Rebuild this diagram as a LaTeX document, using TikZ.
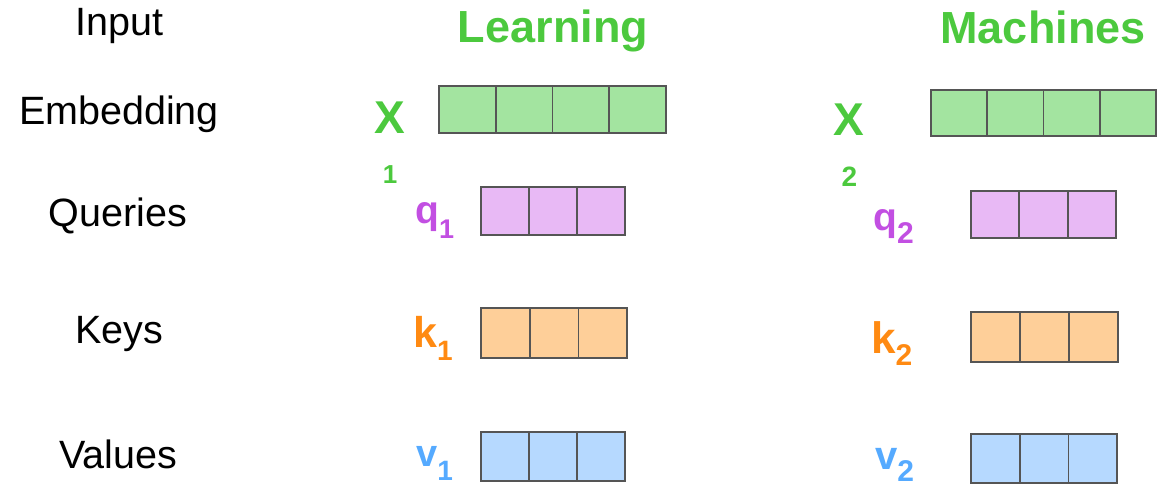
\documentclass[tikz,border=0pt]{standalone}
\usepackage{fontspec}
\setmainfont{Liberation Sans}
\definecolor{tgreen}{HTML}{4CC93E}
\definecolor{tpurple}{HTML}{C24FE2}
\definecolor{torange}{HTML}{FF8A12}
\definecolor{tblue}{HTML}{55AAFF}
\definecolor{fgreen}{HTML}{A3E4A0}
\definecolor{fpurple}{HTML}{E8B9F5}
\definecolor{forange}{HTML}{FECF99}
\definecolor{fblue}{HTML}{B6D9FF}
\definecolor{boxgray}{HTML}{555555}
\newcommand{\fsz}[1]{\fontsize{#1}{#1}\selectfont}
\tikzset{
  cell/.style={draw=boxgray, line width=1.8pt, inner sep=0pt, outer sep=0pt},
  rowlabel/.style={inner sep=0pt, anchor=base, font=\fsz{39.5}, text=black},
  word/.style={inner sep=0pt, anchor=base, font=\fsz{45}\bfseries, text=tgreen},
  vlabel/.style={inner sep=0pt, anchor=base west, font=\bfseries}
}
\begin{document}
\begin{tikzpicture}[x=1pt,y=-1pt]
\useasboundingbox (0,0) rectangle (1158,487);
% row labels
\node[rowlabel] (lin) at (119.5,36) {Input};
\node[rowlabel] (lemb) at (119,124) {Embedding};
\node[rowlabel] (lq) at (118,226) {Queries};
\node[rowlabel] (lk) at (119,343) {Keys};
\node[rowlabel] (lv) at (118,468) {Values};
% words
\node[word] (wL) at (553,42) {Learning};
\node[word] (wM) at (1043,44) {Machines};
% embeddings
\foreach \i in {0,...,3}{
  \node[cell, fill=fgreen, minimum width=56.75pt, minimum height=47pt] (eL\i) at ({439+56.75*(\i+0.5)},109.5) {};
  \node[cell, fill=fgreen, minimum width=56.25pt, minimum height=46pt] (eM\i) at ({931+56.25*(\i+0.5)},113) {};
}
% queries keys values
\foreach \i in {0,1,2}{
  \node[cell, fill=fpurple, minimum width=48pt, minimum height=48pt] (qL\i) at ({481+48*(\i+0.5)},211) {};
  \node[cell, fill=fpurple, minimum width=48.3pt, minimum height=47pt] (qM\i) at ({971+48.3*(\i+0.5)},214.5) {};
  \node[cell, fill=forange, minimum width=48.7pt, minimum height=50pt] (kL\i) at ({481+48.7*(\i+0.5)},333) {};
  \node[cell, fill=forange, minimum width=49pt, minimum height=50pt] (kM\i) at ({971+49*(\i+0.5)},337) {};
  \node[cell, fill=fblue, minimum width=48pt, minimum height=49pt] (vL\i) at ({481+48*(\i+0.5)},456.5) {};
  \node[cell, fill=fblue, minimum width=48.7pt, minimum height=49pt] (vM\i) at ({971+48.7*(\i+0.5)},458.5) {};
}
% X labels
\node[inner sep=0pt, anchor=base, font=\fsz{46}\bfseries, text=tgreen] (x1) at (390,133) {X};
\node[inner sep=0pt, anchor=base, font=\fsz{26}\bfseries, text=tgreen] (x1s) at (390,183) {1};
\node[inner sep=0pt, anchor=base, font=\fsz{46}\bfseries, text=tgreen] (x2) at (849,135) {X};
\node[inner sep=0pt, anchor=base, font=\fsz{28}\bfseries, text=tgreen] (x2s) at (849.5,186) {2};
% q k v labels
\node[vlabel, text=tpurple] (q1) at (415,223) {{\fsz{39}q}{\fsz{27}\raisebox{-15pt}{1}}};
\node[vlabel, text=tpurple] (q2) at (873,230) {{\fsz{39}q}{\fsz{30}\raisebox{-13pt}{2}}};
\node[vlabel, text=torange] (k1) at (413,347) {{\fsz{43}k}{\fsz{28}\raisebox{-13pt}{1}}};
\node[vlabel, text=torange] (k2) at (871,353) {{\fsz{44}k}{\fsz{30}\raisebox{-12pt}{2}}};
\node[vlabel, text=tblue] (v1) at (416,466) {{\fsz{38}v}{\fsz{28}\raisebox{-14pt}{1}}};
\node[vlabel, text=tblue] (v2) at (875,469) {{\fsz{40}v}{\fsz{30}\raisebox{-12pt}{2}}};
\end{tikzpicture}
\end{document}
